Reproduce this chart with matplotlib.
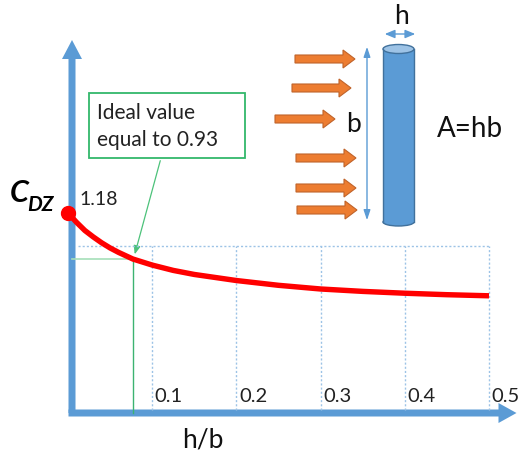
import matplotlib.pyplot as plt
import matplotlib.patches as mpatches

plt.rcParams['font.family'] = ['Lato', 'DejaVu Sans']

# curve C_DZ vs h/b
hb = [0.0, 0.01, 0.02, 0.03, 0.04, 0.05, 0.06, 0.077, 0.1, 0.125, 0.15,
      0.2, 0.25, 0.3, 0.35, 0.4, 0.45, 0.5]
cdz = [1.18, 1.13, 1.085, 1.05, 1.018, 0.99, 0.966, 0.93, 0.897, 0.868, 0.846,
       0.813, 0.787, 0.767, 0.754, 0.744, 0.736, 0.73]
ticks = [0.1, 0.2, 0.3, 0.4, 0.5]
tick_labels = ['0.1', '0.2', '0.3', '0.4', '0.5']
ideal_x = 0.077
ideal_y = 0.93
grid_top = 1.0
axis_y = 0.093

W, H = 524, 459
fig = plt.figure(figsize=(W / 100, H / 100), dpi=100)

# overlay in pixel coords for the sketch parts
ov = fig.add_axes([0, 0, 1, 1])
ov.set_xlim(0, W)
ov.set_ylim(H, 0)
ov.axis('off')
ov.set_zorder(1)

# data axes, mapped so x: px = 68 + 842*x, y: py = 259 - 184*(y-0.93)
ax = fig.add_axes([0, 0, 1, 1])
ax.set_xlim(-68 / 842, (W - 68) / 842)
ax.set_ylim(0.93 - (H - 259) / 184, 0.93 + 259 / 184)
ax.axis('off')
ax.set_zorder(2)
ax.patch.set_alpha(0)

blue = '#5b9bd5'
# axis arrows
ov.add_patch(mpatches.FancyArrow(72, 413, 0, -373, width=7, head_width=20, head_length=19,
                                 length_includes_head=True, color=blue, lw=0))
ov.add_patch(mpatches.FancyArrow(68.5, 413, 448, 0, width=7, head_width=20, head_length=18,
                                 length_includes_head=True, color=blue, lw=0))

# dotted grid
for t in ticks:
    ax.plot([t, t], [axis_y + 0.015, grid_top], color='#9dc3e6', lw=1, ls=(0, (1.5, 1.5)))
ax.plot([0.012, 0.5], [grid_top, grid_top], color='#9dc3e6', lw=1, ls=(0, (1.5, 1.5)))

# ideal-value reference lines
ax.plot([0.005, ideal_x], [ideal_y, ideal_y], color='#a6dfb9', lw=1.2)
ax.plot([ideal_x, ideal_x], [axis_y, ideal_y], color='#3cb371', lw=1)

# curve
ax.plot(hb, cdz, color='red', lw=3.9, solid_capstyle='butt', solid_joinstyle='round')
ax.plot(hb[0], cdz[0], 'o', color='red', ms=10)
ax.annotate('1.18', (hb[0], cdz[0]), xytext=(8, 10), textcoords='offset points',
            fontsize=14, va='center', ha='left', color='#222222')

for t, lab in zip(ticks, tick_labels):
    ax.text(t + 0.003, 0.18, lab, fontsize=14.5, ha='left', va='center', color='#222222')

# annotation box
ov.add_patch(mpatches.Rectangle((89, 93), 156, 65, fill=False, ec='#33b86b', lw=1.3))
ov.text(97, 113, 'Ideal value', fontsize=15, va='center', ha='left', color='#222222')
ov.text(97, 140, 'equal to 0.93', fontsize=15, va='center', ha='left', color='#222222')
ov.annotate('', xy=(134, 257), xytext=(161, 158),
            arrowprops=dict(arrowstyle='-|>,head_length=0.5,head_width=0.2', color='#4cc27a', lw=0.9))

# axis labels
ov.text(203, 440, 'h/b', fontsize=19, ha='center', va='center', color='#111111')
ov.text(10, 193, 'C', fontsize=22, fontweight='bold', style='italic', ha='left', va='center')
ov.text(27, 205, 'DZ', fontsize=15, fontweight='bold', style='italic', ha='left', va='center')

# wind arrows
orange = '#ed7d31'
arrows = [(295, 355, 59), (292, 351, 88), (275, 335, 119),
          (296, 356, 158), (296, 356, 188), (297, 357, 210)]
for x0, x1, y in arrows:
    ov.add_patch(mpatches.FancyArrow(x0, y, x1 - x0, 0, width=8, head_width=18, head_length=12,
                                     length_includes_head=True, fc=orange, ec='#c0632a', lw=0.8))

# column
ov.add_patch(mpatches.Ellipse((398.5, 222), 31, 8, fc=blue, ec='#41719c', lw=1))
ov.add_patch(mpatches.Rectangle((383, 49), 31, 173, fc=blue, ec='none'))
ov.plot([383, 383], [49, 222], color='#41719c', lw=1)
ov.plot([414, 414], [49, 222], color='#41719c', lw=1)
ov.add_patch(mpatches.Ellipse((398.5, 49), 31, 9, fc='#9dc3e6', ec='#41719c', lw=1))

# dimension arrows
ov.annotate('', xy=(367, 44), xytext=(367, 223),
            arrowprops=dict(arrowstyle='<|-|>,head_length=0.6,head_width=0.2', color=blue, lw=1))
ov.annotate('', xy=(382, 34), xytext=(418, 34),
            arrowprops=dict(arrowstyle='<|-|>,head_length=0.6,head_width=0.25', color=blue, lw=1))
ov.text(353, 125, 'b', fontsize=19, ha='center', va='center', color='#111111')
ov.text(402, 16, 'h', fontsize=19, ha='center', va='center', color='#111111')
ov.text(470, 129, 'A=hb', fontsize=20, ha='center', va='center', color='#111111')

fig.savefig('out.png', dpi=100)
